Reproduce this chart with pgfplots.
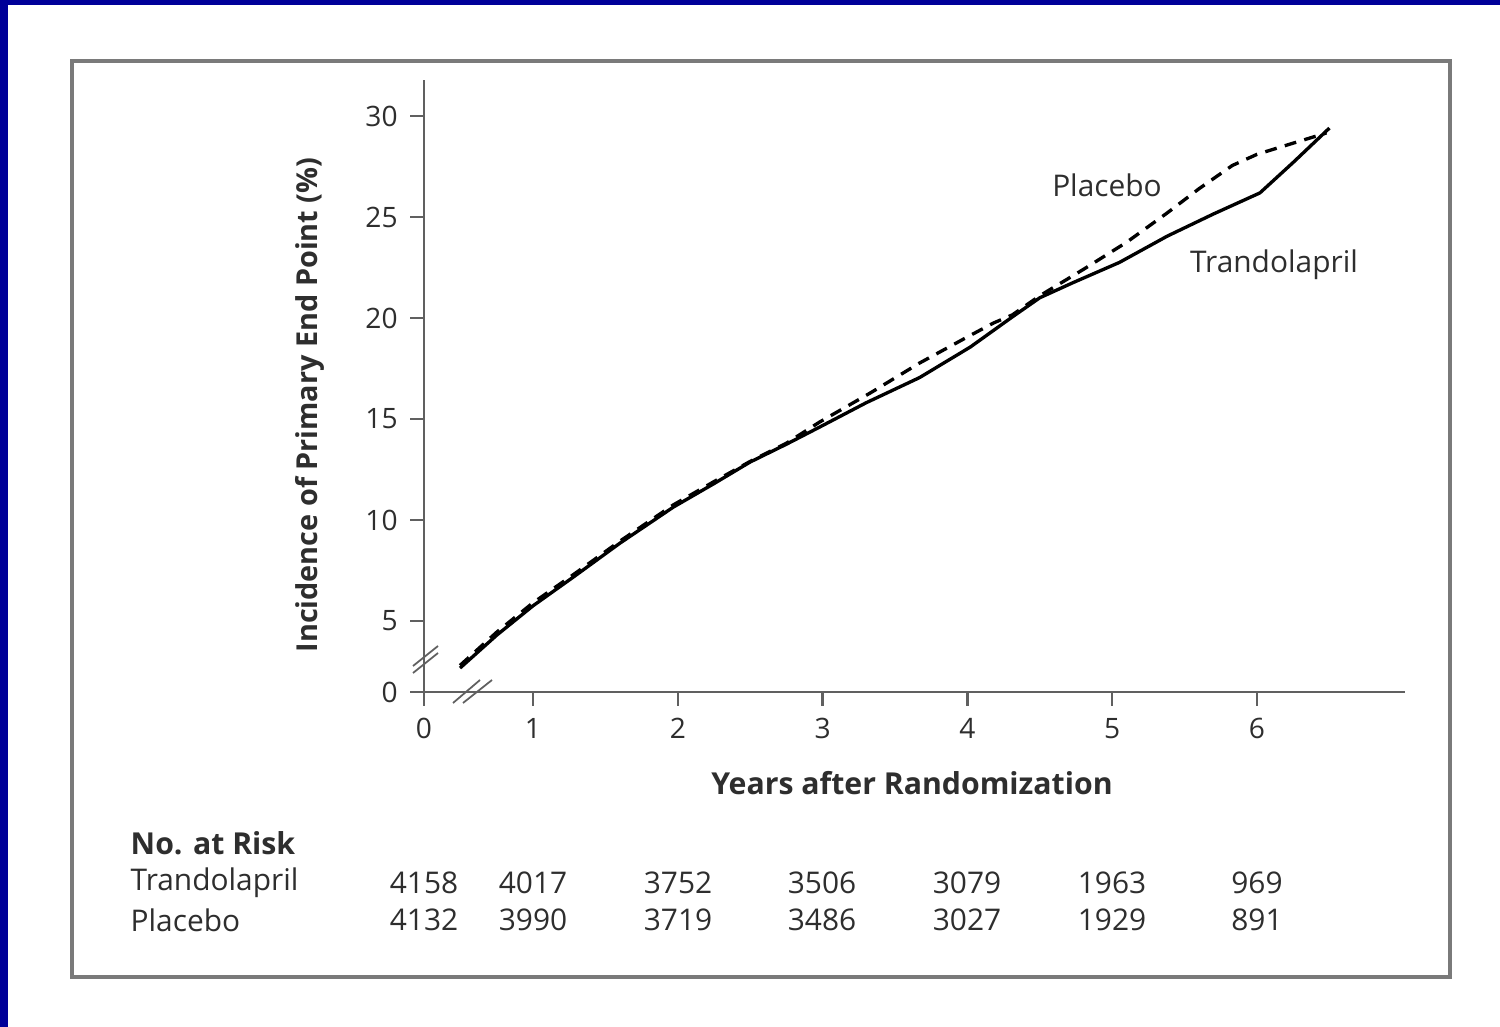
\documentclass[border=0pt]{standalone}
\usepackage{pgfplots}
\pgfplotsset{compat=1.18}
\usepackage{fontspec}
\setmainfont{Open Sans}
\definecolor{bgblue}{HTML}{000099}
\definecolor{txt}{HTML}{2E2E2E}
\definecolor{axgray}{HTML}{606060}
\definecolor{framegray}{HTML}{7A7A7A}

\pgfplotstableread{
x y
0.496 2.67
0.75 4.30
1.00 5.75
1.28 7.18
1.60 8.85
1.97 10.64
2.25 11.80
2.50 12.87
2.75 13.75
2.98 14.60
3.30 15.80
3.67 17.05
4.02 18.56
4.31 20.05
4.50 21.00
4.73 21.75
5.05 22.75
5.38 24.05
5.70 25.15
6.02 26.19
6.25 27.70
6.50 29.40
}\trandolapril

\pgfplotstableread{
x y
0.496 2.80
0.75 4.45
1.00 5.90
1.28 7.30
1.60 8.95
1.97 10.75
2.25 11.90
2.50 12.90
2.75 13.80
2.98 14.85
3.33 16.29
3.67 17.77
4.00 19.06
4.18 19.75
4.31 20.15
4.50 21.10
4.80 22.40
5.10 23.75
5.38 25.20
5.60 26.40
5.83 27.55
6.00 28.10
6.18 28.50
6.48 29.16
}\placebo

\begin{document}
\begin{tikzpicture}
% canvas 1500x1027 px, 1px = 0.01cm
\useasboundingbox (0,0) rectangle (15,10.27);
\fill[white] (0,0) rectangle (15,10.27);
\fill[bgblue] (0,0) rectangle (0.08,10.27);
\fill[bgblue] (0,10.22) rectangle (15,10.27);
\draw[framegray, line width=0.9pt] (0.72,{10.27-0.61}) rectangle (14.50,{10.27-9.77});

\begin{axis}[
  at={(4.24cm,3.35cm)}, anchor=south west,
  scale only axis, width=9.81cm, height=6.12cm,
  xmin=0.2473, xmax=7.022, ymin=1.485, ymax=31.78,
  axis x line=bottom, axis y line=left,
  axis line style={-, axgray, line width=0.7pt},
  xtick={0.2473,1,2,3,4,5,6}, xticklabels={0,1,2,3,4,5,6},
  ytick={1.485,5,10,15,20,25,30}, yticklabels={0,5,10,15,20,25,30},
  tick align=outside, major tick length=0.14cm,
  tick style={axgray, line width=0.7pt},
  ticklabel style={font=\fontsize{8}{9}\selectfont, text=txt},
  clip=false,
]
\addplot[black, line width=0.95pt] table {\trandolapril};
\addplot[black, line width=0.95pt, dash pattern=on 3.4pt off 2.4pt] table {\placebo};
\end{axis}

% axis break marks
\draw[axgray, line width=0.5pt] (4.13,{10.27-6.66}) -- (4.38,{10.27-6.46});
\draw[axgray, line width=0.5pt] (4.13,{10.27-6.73}) -- (4.38,{10.27-6.53});
\draw[axgray, line width=0.5pt] (4.53,{10.27-7.03}) -- (4.80,{10.27-6.80});
\draw[axgray, line width=0.5pt] (4.63,{10.27-7.03}) -- (4.92,{10.27-6.80});

% curve labels
\node[text=txt, font=\fontsize{8.5}{10}\selectfont] at (11.07,{10.27-1.85}) {Placebo};
\node[text=txt, font=\fontsize{8.5}{10}\selectfont] at (12.74,{10.27-2.65}) {Trandolapril};

% axis titles
\node[text=txt, font=\fontsize{8.6}{10}\selectfont\bfseries] at (9.12,{10.27-7.83}) {Years after Randomization};
\node[text=txt, rotate=90, font=\fontsize{8.2}{10}\selectfont\bfseries] at (3.10,{10.27-4.05}) {Incidence of Primary End Point (\%)};

% number at risk
\node[text=txt, anchor=west, font=\fontsize{8.6}{10}\selectfont\bfseries, inner sep=0pt] at (1.30,{10.27-8.43}) {No. at Risk};
\node[text=txt, anchor=west, font=\fontsize{8.5}{10}\selectfont, inner sep=0pt] at (1.30,{10.27-8.83}) {Trandolapril};
\node[text=txt, anchor=west, font=\fontsize{8.5}{10}\selectfont, inner sep=0pt] at (1.30,{10.27-9.20}) {Placebo};
\foreach \xx/\a/\b in {4.24/4158/4132, 5.33/4017/3990, 6.78/3752/3719, 8.22/3506/3486, 9.67/3079/3027, 11.12/1963/1929, 12.57/969/891}{
  \node[text=txt, font=\fontsize{8.5}{10}\selectfont, inner sep=0pt] at (\xx,{10.27-8.83}) {\a};
  \node[text=txt, font=\fontsize{8.5}{10}\selectfont, inner sep=0pt] at (\xx,{10.27-9.20}) {\b};
}
\end{tikzpicture}
\end{document}
